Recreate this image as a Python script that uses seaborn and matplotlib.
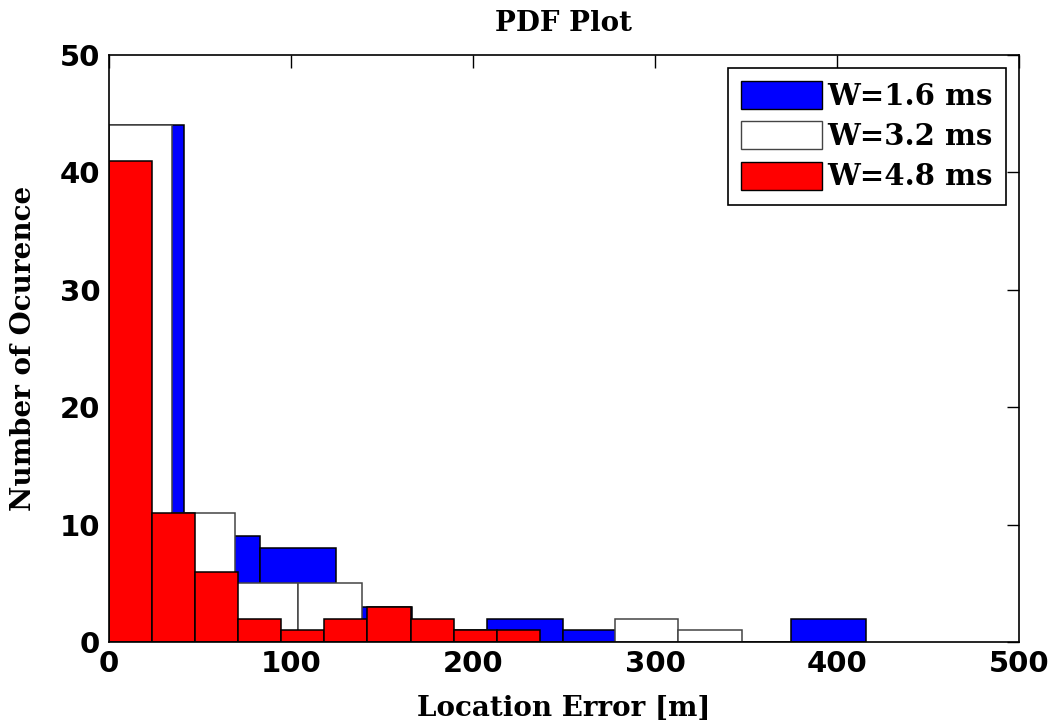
import numpy as np
import pandas as pd
import matplotlib
matplotlib.use("Agg")
import matplotlib.pyplot as plt
from matplotlib.patches import Patch
import seaborn as sns

# ---- data (histogram counts, 10 bins each) ----
series_labels = ["W=1.6 ms", "W=3.2 ms", "W=4.8 ms"]
series_colors = ["#0000ff", "#ffffff", "#ff0000"]
range_blue = (0.0, 416.0)
range_white = (0.0, 347.6)
range_red = (0.0, 236.9)
counts_blue = [44, 9, 8, 3, 1, 2, 1, 0, 0, 2]
counts_white = [44, 11, 5, 5, 1, 1, 0, 0, 2, 1]
counts_red = [41, 11, 6, 2, 1, 2, 3, 2, 1, 1]
xticks = [0, 100, 200, 300, 400, 500]
yticks = [0, 10, 20, 30, 40, 50]

sns.set_style("white")
plt.rcParams["font.family"] = ["DejaVu Sans"]
plt.rcParams["text.color"] = "black"
plt.rcParams["axes.labelcolor"] = "black"
plt.rcParams["xtick.color"] = "black"
plt.rcParams["ytick.color"] = "black"

fig = plt.figure(figsize=(10.58, 7.26), dpi=100)
ax = fig.add_axes([0.1026, 0.1157, 0.8608, 0.8085])

def draw(rng, counts, color, ec):
    n = len(counts)
    width = (rng[1] - rng[0]) / n
    centers = [rng[0] + (i + 0.5) * width for i in range(n)]
    df = pd.DataFrame({"x": centers, "w": counts})
    sns.histplot(data=df, x="x", weights="w", bins=n, binrange=rng, ax=ax,
                 color=color, edgecolor=ec, linewidth=1.1, alpha=1.0)

draw(range_blue, counts_blue, series_colors[0], "black")
draw(range_white, counts_white, series_colors[1], "#444444")
draw(range_red, counts_red, series_colors[2], "black")

ax.set_xlim(0, 500)
ax.set_ylim(0, 50)
ax.set_xticks(xticks)
ax.set_yticks(yticks)
ax.tick_params(direction="in", length=9, width=1, top=True, right=True,
               labelsize=21, pad=6, colors="black")
for lab in ax.get_xticklabels() + ax.get_yticklabels():
    lab.set_fontweight("bold")
for sp in ax.spines.values():
    sp.set_color("black")
    sp.set_linewidth(1.2)

serif = ["DejaVu Serif"]
ax.set_xlabel("Location Error [m]", fontsize=20, fontweight="bold",
              family=serif, labelpad=12, color="black")
ax.set_ylabel("Number of Ocurence", fontsize=20, fontweight="bold",
              family=serif, labelpad=16, color="black")
ax.set_title("PDF Plot", fontsize=20, fontweight="bold", family=serif, pad=17,
             color="black")

handles = [Patch(facecolor=series_colors[0], edgecolor="black", label=series_labels[0]),
           Patch(facecolor=series_colors[1], edgecolor="#444444", label=series_labels[1]),
           Patch(facecolor=series_colors[2], edgecolor="black", label=series_labels[2])]
leg = ax.legend(handles=handles, loc="upper right", fancybox=False,
                prop={"family": serif, "weight": "bold", "size": 21},
                handlelength=2.75, handleheight=1.1, handletextpad=0.2,
                borderaxespad=0.45, labelspacing=0.35, borderpad=0.45,
                framealpha=1)
leg.get_frame().set_edgecolor("black")
leg.get_frame().set_linewidth(1.2)
for t in leg.get_texts():
    t.set_color("black")

fig.savefig("out.png", dpi=100)
